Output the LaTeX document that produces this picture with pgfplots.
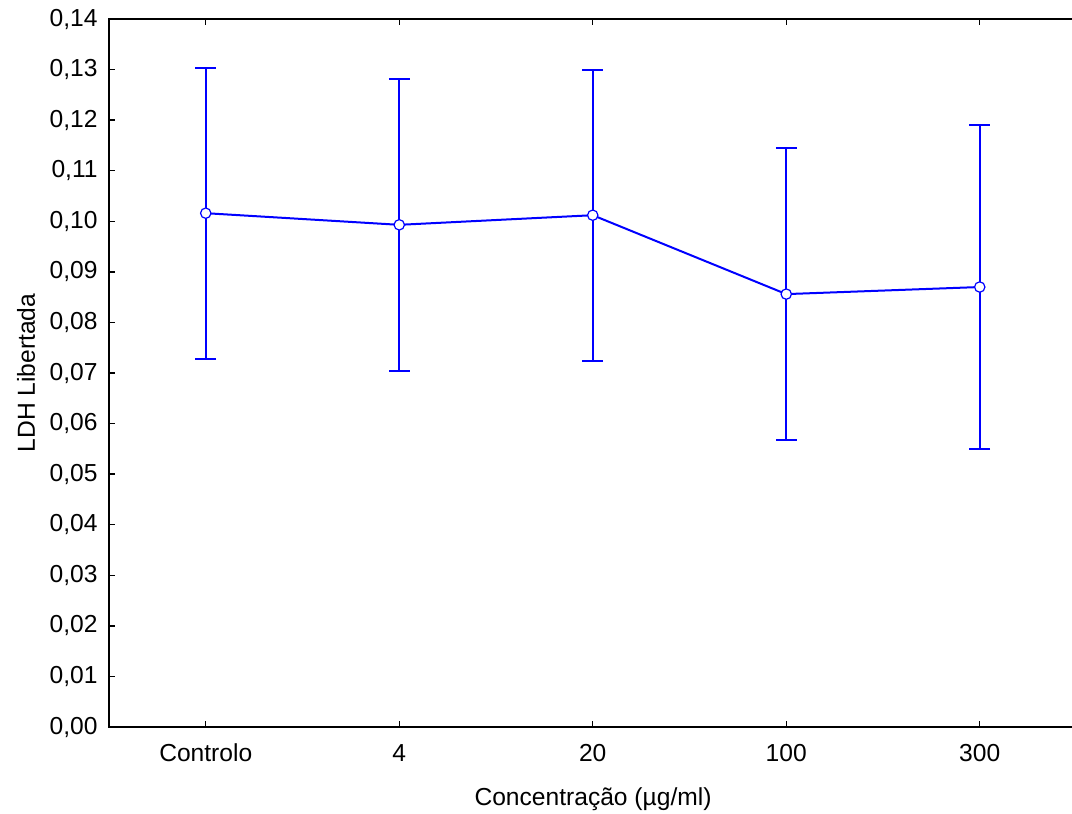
\documentclass[border=0pt]{standalone}
\usepackage{fontspec}
\setmainfont{Liberation Sans}
\usepackage{pgfplots}
\pgfplotsset{compat=1.18}
\definecolor{sblue}{RGB}{0,0,255}
\begin{document}
\fontsize{12.3pt}{14pt}\selectfont
\begin{tikzpicture}
\path[use as bounding box] (-54.5pt,-43.5pt) rectangle (481.5pt,363.5pt);
\begin{axis}[
  at={(0,0)}, anchor=south west,
  scale only axis,
  width=483.75pt, height=354pt,
  xmin=-0.5, xmax=4.5,
  ymin=0, ymax=0.14,
  xtick={0,1,2,3,4},
  xticklabels={Controlo,4,20,100,300},
  ytick={0,0.01,...,0.141},
  yticklabel style={/pgf/number format/fixed, /pgf/number format/fixed zerofill, /pgf/number format/precision=2, /pgf/number format/use comma, /pgf/number format/assume math mode=true, anchor=east, inner sep=0pt, xshift=-5.5pt},
  scaled y ticks=false,
  tick align=inside,
  major tick length=2.8pt,
  xtick pos=both,
  ytick pos=left,
  axis line style={line width=0.7pt, black},
  tick style={line width=0.7pt, black},
  xticklabel style={anchor=center, yshift=-13pt},
  xlabel={Concentração (µg/ml)},
  ylabel={LDH Libertada},
  every axis x label/.style={at={(axis description cs:0.5003,-0.1017)}, anchor=center},
  every axis y label/.style={at={(axis description cs:-0.0857,0.5)}, anchor=center, rotate=90},
  tick label style={font=\fontsize{12.3pt}{14pt}\selectfont},
  every axis label/.append style={font=\fontsize{12.3pt}{14pt}\selectfont},
]
\addplot[color=sblue, line width=1pt,
  mark=*, mark size=2.6pt, mark options={fill=white, draw=sblue, line width=0.6pt},
  error bars/.cd, y dir=both, y explicit,
  error bar style={line width=1pt, sblue},
  error mark options={rotate=90, mark size=5.2pt, line width=1pt, sblue}]
  coordinates {
  (0,0.1016) +- (0,0.0288)
  (1,0.0993) +- (0,0.0289)
  (2,0.1012) +- (0,0.0288)
  (3,0.0856) +- (0,0.0288)
  (4,0.0870) +- (0,0.0321)
  };
\end{axis}
\end{tikzpicture}
\end{document}
